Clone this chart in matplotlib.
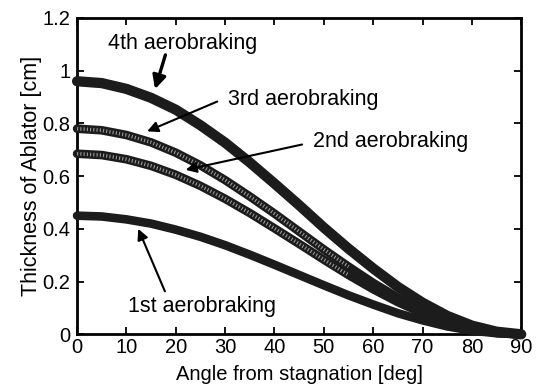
import matplotlib
matplotlib.use('Agg')
import matplotlib.pyplot as plt
import numpy as np

plt.rcParams['font.family'] = ['Liberation Sans', 'DejaVu Sans']

# angle from stagnation [deg]
angle = [0, 5, 10, 15, 20, 25, 30, 35, 40, 45, 50, 55, 60, 65, 70, 75, 80, 85, 90]

# ablator thickness [cm]
first = [0.45, 0.447, 0.436, 0.42, 0.397, 0.37, 0.338, 0.302, 0.264, 0.225,
         0.186, 0.148, 0.113, 0.08, 0.053, 0.03, 0.014, 0.004, 0.0]
second = [0.685, 0.68, 0.664, 0.639, 0.605, 0.563, 0.514, 0.46, 0.402, 0.343,
          0.283, 0.225, 0.171, 0.122, 0.08, 0.046, 0.021, 0.005, 0.0]
third = [0.78, 0.774, 0.756, 0.728, 0.689, 0.641, 0.585, 0.523, 0.458, 0.39,
         0.322, 0.257, 0.195, 0.139, 0.091, 0.052, 0.024, 0.006, 0.0]
fourth = [0.96, 0.953, 0.931, 0.897, 0.852, 0.793, 0.727, 0.652, 0.572, 0.49,
          0.405, 0.325, 0.25, 0.18, 0.12, 0.07, 0.033, 0.01, 0.0]

labels = ['1st aerobraking', '2nd aerobraking', '3rd aerobraking', '4th aerobraking']

fig = plt.figure(figsize=(5.39, 3.91), dpi=100)
ax = fig.add_axes([0.143, 0.145, 0.824, 0.809])

dark = '#1c1c1c'
# thick curves (original drawn with dense markers)
ax.plot(angle, first, color=dark, lw=6.2, solid_capstyle='round', clip_on=False, zorder=3)
ax.plot(angle, second, color=dark, lw=6.2, solid_capstyle='round', clip_on=False, zorder=3)
ax.plot(angle, third, color=dark, lw=6.2, solid_capstyle='round', clip_on=False, zorder=3)
ax.plot(angle, fourth, color=dark, lw=7.4, solid_capstyle='round', clip_on=False, zorder=3)

# speckled texture inside 2nd and 3rd curves
n = 12
for y in (second, third):
    ax.plot(angle[:n], y[:n], color='#9a9a9a', lw=2.6,
            linestyle=(0, (0.3, 0.6)), dash_capstyle='butt', zorder=4)

ax.set_xlim(0, 90)
ax.set_ylim(0, 1.2)
ax.set_xticks(np.arange(0, 91, 10))
ax.set_yticks([0, 0.2, 0.4, 0.6, 0.8, 1.0, 1.2])
ax.set_yticklabels(['0', '0.2', '0.4', '0.6', '0.8', '1', '1.2'])
ax.tick_params(direction='in', top=True, right=True, length=5, width=1.3,
               labelsize=14.5)
ax.tick_params(axis='x', pad=3)
ax.tick_params(axis='y', pad=5)
for s in ax.spines.values():
    s.set_linewidth(2.0)

ax.set_xlabel('Angle from stagnation [deg]', fontsize=14.5)
ax.xaxis.set_label_coords(0.5, -0.098)
ax.set_ylabel('Thickness of Ablator [cm]', fontsize=15.5, labelpad=0)

arrow = dict(arrowstyle='-|>', color='black', lw=1.5, mutation_scale=16,
             shrinkA=0, shrinkB=0)
ax.annotate('', xy=(15.8, 0.93), xytext=(17.9, 1.06),
            arrowprops=dict(arrow, lw=2.4, mutation_scale=20), zorder=5)
ax.annotate('', xy=(14.2, 0.77), xytext=(28.4, 0.883), arrowprops=arrow, zorder=5)
ax.annotate('', xy=(22.0, 0.624), xytext=(45.6, 0.72), arrowprops=arrow, zorder=5)
ax.annotate('', xy=(12.4, 0.40), xytext=(17.8, 0.163), arrowprops=arrow, zorder=5)

ax.text(6.3, 1.105, labels[3], fontsize=15.5, ha='left', va='center')
ax.text(30.6, 0.89, labels[2], fontsize=15.5, ha='left', va='center')
ax.text(47.9, 0.731, labels[1], fontsize=15.5, ha='left', va='center')
ax.text(10.3, 0.106, labels[0], fontsize=15.5, ha='left', va='center')

fig.savefig('out.png', dpi=100)
